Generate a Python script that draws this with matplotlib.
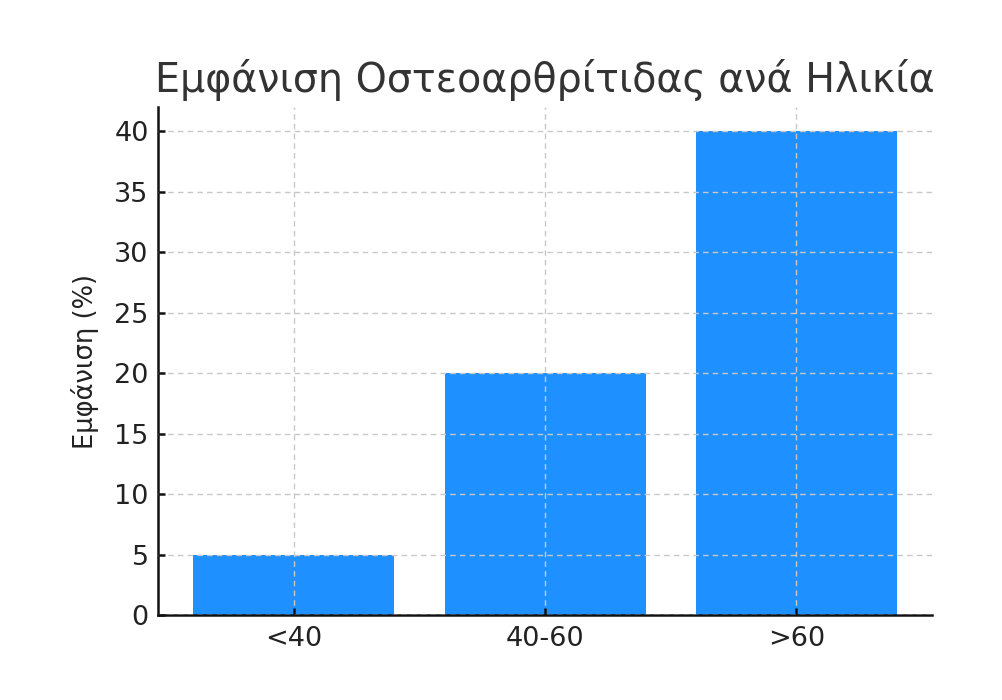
import matplotlib
matplotlib.use("Agg")
import matplotlib.pyplot as plt

categories = ["<40", "40-60", ">60"]
values = [5, 20, 40]
yticks = [0, 5, 10, 15, 20, 25, 30, 35, 40]

title = "Εμφάνιση Οστεοαρθρίτιδας ανά Ηλικία"
ylabel = "Εμφάνιση (%)"

plt.rcParams['font.family'] = ['DejaVu Sans']

fig = plt.figure(figsize=(10.02, 7.0), dpi=100)
ax = fig.add_axes([0.158, 0.121, 0.772, 0.726])

ax.bar(categories, values, width=0.8, color="#1E90FF", zorder=1)

ax.set_yticks(yticks)
ax.grid(True, linestyle=(0, (4, 3)), color="#c8c8c8", linewidth=1.0, zorder=2)
ax.set_axisbelow(False)

for s in ["top", "right"]:
    ax.spines[s].set_visible(False)
for s in ["left", "bottom"]:
    ax.spines[s].set_linewidth(1.8)
    ax.spines[s].set_color("#111111")

ax.tick_params(axis="both", direction="in", length=5, width=1.8, labelsize=19.5,
               labelcolor="#222222", color="#111111")
ax.tick_params(axis="y", pad=7)
ax.tick_params(axis="x", pad=8)

ax.set_ylabel(ylabel, fontsize=18.5, color="#222222", labelpad=11)
ax.set_title(title, fontsize=28.5, color="#333333", pad=11)

fig.savefig("out.png", dpi=100)
